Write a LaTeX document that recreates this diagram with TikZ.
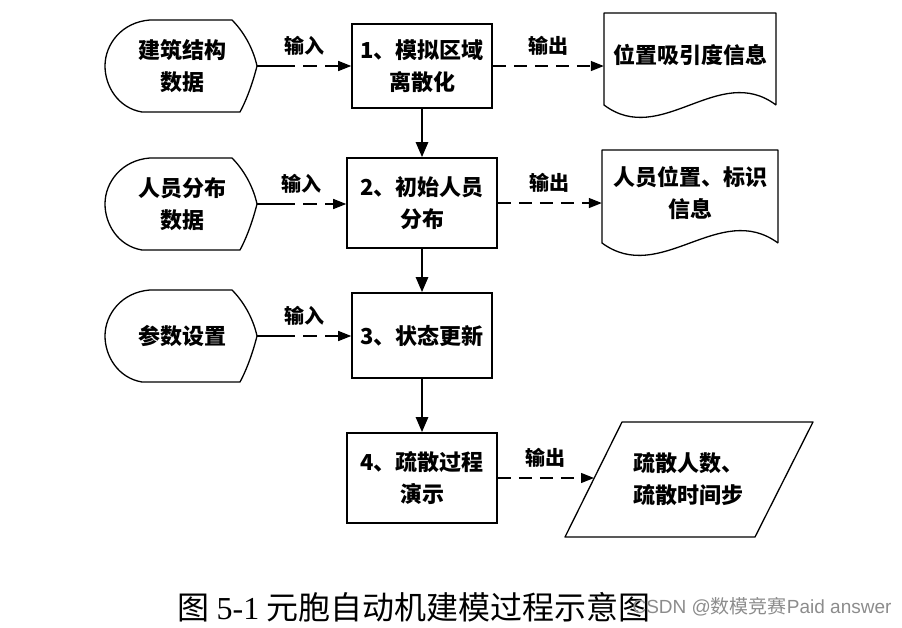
\documentclass[tikz,border=0pt]{standalone}
\usepackage{fontspec}
\setmainfont{Liberation Serif}
\setsansfont{Liberation Sans}
\newfontfamily\hei{Noto Sans CJK SC}
\usetikzlibrary{arrows.meta}

\tikzset{
  shapeline/.style={line width=1.3pt, line join=round},
  procbox/.style={draw, line width=1.6pt, align=center, inner sep=0pt,
    font=\hei\bfseries\fontsize{22}{32}\selectfont},
  shapetext/.style={align=center, inner sep=0pt,
    font=\hei\bfseries\fontsize{22}{32}\selectfont},
  inarrow/.style={line width=1.3pt, dash pattern=on 38pt off 8pt on 14pt off 8pt on 40pt,
    -{Triangle[length=13pt,width=10pt]}},
  outarrow/.style={line width=1.3pt, dash pattern=on 13pt off 8pt,
    -{Triangle[length=13pt,width=10pt]}},
  downarrow/.style={line width=2.6pt, -{Triangle[length=15pt,width=12pt]}},
  flowlabel/.style={above=10pt, inner sep=0pt,
    font=\hei\bfseries\fontsize{20}{24}\selectfont}
}

% 数据框: #1 名称, #2 x, #3 y, #4 文字
\newcommand{\datashape}[4]{%
  \draw[shapeline] (#2-32,#3-46) -- (#2+50,#3-46)
    .. controls (#2+64,#3-32) and (#2+72,#3-14) .. (#2+75,#3)
    .. controls (#2+71,#3+16) and (#2+65,#3+33) .. (#2+58,#3+46)
    -- (#2-40,#3+46)
    .. controls (#2-64,#3+42) and (#2-77,#3+20) .. (#2-77,#3)
    .. controls (#2-77,#3-22) and (#2-60,#3-44) .. (#2-32,#3-46) -- cycle;
  \node[shapetext] (#1) at (#2,#3) {#4};
  \coordinate (#1tip) at (#2+75,#3);
}

% 文档框: #1 名称, #2 左, #3 右, #4 上, #5 下, #6 文字
\newcommand{\docshape}[6]{%
  \draw[shapeline] (#3,#5) -- (#3,#4) -- (#2,#4) -- (#2,#5)
    .. controls ({#2+0.333*(#3-#2)},{#5+43}) and ({#2+0.667*(#3-#2)},{#5-43}) .. (#3,#5);
  \node[shapetext, minimum width={(#3-#2)*1pt}] (#1) at ({(#2+#3)/2},{(#4+#5)/2-4}) {#6};
}

\begin{document}
\begin{tikzpicture}[x=1pt, y=-1pt]
    \useasboundingbox (0,0) rectangle (902,627);
    % 输入数据
    \datashape{in1}{182}{66}{建筑结构\\数据}
    \datashape{in2}{182}{204}{人员分布\\数据}
    \datashape{in3}{182}{336}{参数设置}
    % 处理步骤
    \node[procbox, minimum width=140, minimum height=84] (b1) at (422,66) {1、模拟区域\\离散化};
    \node[procbox, minimum width=150, minimum height=90] (b2) at (422,203) {2、初始人员\\分布};
    \node[procbox, minimum width=140, minimum height=85] (b3) at (422,335.5) {3、状态更新};
    \node[procbox, minimum width=150, minimum height=90] (b4) at (422,478) {4、疏散过程\\演示};
    % 输出
    \docshape{out1}{604}{776}{13}{105}{位置吸引度信息}
    \docshape{out2}{602}{778}{150}{243}{人员位置、标识\\信息}
    \draw[shapeline] (565,537) -- (622,422) -- (813,422) -- (755,537) -- cycle;
    \node[shapetext] (out4) at (688,479) {疏散人数、\\疏散时间步};
    \coordinate (out4in) at (594,478);
    % 流程箭头
    \draw[downarrow] (b1) -- (b2);
    \draw[downarrow] (b2) -- (b3);
    \draw[downarrow] (b3) -- (b4);
    \draw[inarrow] (in1tip) -- node[flowlabel] {输入} (in1tip -| b1.west);
    \draw[inarrow] (in2tip) -- node[flowlabel] {输入} (in2tip -| b2.west);
    \draw[inarrow] (in3tip) -- node[flowlabel] {输入} (in3tip -| b3.west);
    \draw[outarrow] (b1.east) -- node[flowlabel] {输出} (b1.east -| out1.west);
    \draw[outarrow] (b2.east) -- node[flowlabel] {输出} (b2.east -| out2.west);
    \draw[outarrow] (b4.east) -- node[flowlabel] {输出} (b4.east -| out4in);
    % 图题
    \node (caption) at (414,607) {\hei\fontsize{32}{38}\selectfont 图 {\rmfamily 5-1} 元胞自动机建模过程示意图};
    \node[anchor=west, text=black!45] (mark) at (629,607)
      {\sffamily\fontsize{19}{22}\selectfont CSDN @{\hei 数模竞赛}Paid answer};
\end{tikzpicture}
\end{document}
